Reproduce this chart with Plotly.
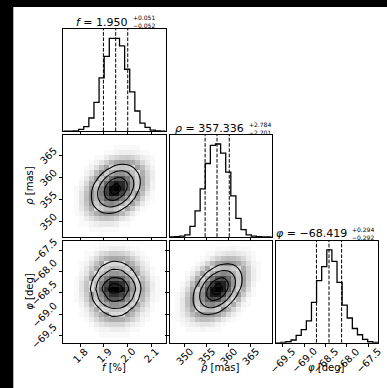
import numpy as np
import plotly.graph_objects as go

W, H = 387, 388
NBINS = 20

# ---------------- data ----------------
F_RANGE = [1.728, 2.161]
RHO_RANGE = [346.55, 369.75]
PHI_RANGE = [-69.66, -67.28]

f_hist = [0, 0, 1, 5, 13, 38, 83, 153, 215, 267, 267, 245, 178, 113, 58, 23, 11, 3, 1, 0]
rho_hist = [0, 1, 2, 6, 30, 75, 138, 211, 263, 267, 241, 186, 118, 53, 21, 6, 2, 1, 0, 0]
phi_hist = [0, 1, 3, 8, 21, 38, 63, 116, 178, 218, 266, 233, 173, 108, 71, 41, 23, 10, 3, 1]

f_quant = [1.898, 1.950, 2.001]
rho_quant = [354.635, 357.336, 360.120]
phi_quant = [-68.711, -68.419, -68.125]

f_ticks = [1.8, 1.9, 2.0, 2.1]
f_ticktext = ["1.8", "1.9", "2.0", "2.1"]
rho_ticks = [350, 355, 360, 365]
rho_ticktext = ["350", "355", "360", "365"]
phi_ticks = [-69.5, -69.0, -68.5, -68.0, -67.5]
phi_ticktext = ["\u221269.5", "\u221269.0", "\u221268.5", "\u221268.0", "\u221267.5"]

f_title = ["<i>f</i> = 1.950", "+0.051", "\u22120.052"]
rho_title = ["<i>\u03c1</i> = 357.336", "+2.784", "\u22122.701"]
phi_title = ["<i>\u03c6</i> = \u221268.419", "+0.294", "\u22120.292"]

f_label = "<i>f</i> [%]"
rho_label = "<i>\u03c1</i> [mas]"
phi_label = "<i>\u03c6</i> [deg]"

# 2D histogram counts, rows = y bins (bottom -> top), cols = x bins
H_f_rho = [
    [0]*20,
    [0,0,0,0,0,1,1,1,1,1,1,0,0,0,0,0,0,0,0,0],
    [0,0,0,1,1,2,3,4,4,4,3,1,1,0,0,0,0,0,0,0],
    [0,0,0,1,3,6,9,12,13,12,9,5,3,1,0,0,0,0,0,0],
    [0,0,1,2,6,12,21,29,34,33,26,17,9,4,1,0,0,0,0,0],
    [0,0,1,4,10,21,39,58,72,73,61,42,24,11,4,1,0,0,0,0],
    [0,0,1,5,13,32,61,96,126,135,120,88,53,26,11,4,1,0,0,0],
    [0,0,1,5,15,38,78,131,181,206,194,150,96,50,22,8,2,1,0,0],
    [0,0,1,5,14,38,82,146,214,259,258,212,143,80,37,14,4,1,0,0],
    [0,0,1,3,11,31,71,135,209,268,283,246,177,104,51,20,7,2,0,0],
    [0,0,0,2,7,21,51,102,168,229,256,236,179,112,58,24,9,2,0,0],
    [0,0,0,1,4,12,30,64,111,161,190,186,150,99,54,24,9,3,0,0],
    [0,0,0,0,2,5,15,33,61,93,117,121,103,72,42,20,8,3,0,0],
    [0,0,0,0,1,2,6,14,27,44,59,65,59,44,27,14,6,2,0,0],
    [0,0,0,0,0,1,2,5,10,17,24,28,27,22,14,7,3,1,0,0],
    [0,0,0,0,0,0,1,1,3,6,8,10,11,9,6,3,2,1,0,0],
    [0,0,0,0,0,0,0,0,1,1,2,3,3,3,2,1,1,0,0,0],
    [0,0,0,0,0,0,0,0,0,0,1,1,1,1,1,0,0,0,0,0],
    [0]*20,
    [0]*20,
]

H_f_phi = [
    [0]*20,
    [0,0,0,0,0,0,0,1,1,1,1,1,1,0,0,0,0,0,0,0],
    [0,0,0,0,0,0,1,2,2,3,3,3,2,1,1,0,0,0,0,0],
    [0,0,0,0,0,1,3,5,7,8,8,8,5,3,2,1,0,0,0,0],
    [0,0,0,0,1,3,7,12,17,22,22,20,14,9,5,2,1,0,0,0],
    [0,0,0,1,2,6,12,22,31,39,39,36,26,16,8,3,2,0,0,0],
    [0,0,0,1,3,9,20,37,52,65,65,59,43,27,14,6,3,1,0,0],
    [0,0,0,2,6,17,37,68,95,119,119,109,79,50,26,10,5,1,0,0],
    [0,0,1,3,9,26,57,104,147,182,182,167,121,77,39,16,7,2,1,0],
    [0,0,1,4,11,32,69,128,180,223,223,205,149,94,48,19,9,2,1,0],
    [0,0,1,5,13,39,85,156,219,272,272,250,181,115,59,23,11,3,1,0],
    [0,0,1,5,12,34,74,137,192,238,238,219,159,101,52,20,10,3,1,0],
    [0,0,1,3,9,25,55,101,142,177,177,162,118,75,38,15,7,2,1,0],
    [0,0,0,2,5,16,34,63,89,110,110,101,74,47,24,9,5,1,0,0],
    [0,0,0,1,4,10,23,42,58,73,73,67,48,31,16,6,3,1,0,0],
    [0,0,0,1,2,6,13,24,34,42,42,38,28,18,9,4,2,0,0,0],
    [0,0,0,0,1,3,7,13,19,23,23,21,16,10,5,2,1,0,0,0],
    [0,0,0,0,1,1,3,6,8,10,10,9,7,4,2,1,0,0,0,0],
    [0,0,0,0,0,0,1,2,2,3,3,3,2,1,1,0,0,0,0,0],
    [0,0,0,0,0,0,0,1,1,1,1,1,1,0,0,0,0,0,0,0],
]

H_rho_phi = [
    [0]*20,
    [0]*20,
    [0,0,0,1,1,1,2,1,1,1,0,0,0,0,0,0,0,0,0,0],
    [0,0,1,2,3,4,5,5,4,2,1,0,0,0,0,0,0,0,0,0],
    [0,1,2,4,7,12,15,15,12,8,4,2,1,0,0,0,0,0,0,0],
    [0,1,3,7,15,25,34,38,34,25,14,7,3,1,0,0,0,0,0,0],
    [0,1,4,10,24,44,65,79,76,60,38,19,8,3,1,0,0,0,0,0],
    [0,1,4,13,32,63,103,134,141,120,83,46,21,7,2,1,0,0,0,0],
    [0,1,4,13,35,75,132,187,215,198,148,89,44,17,5,1,0,0,0,0],
    [0,1,3,11,31,73,140,215,268,269,218,142,75,32,11,3,1,0,0,0],
    [0,0,2,7,23,59,122,203,274,299,263,187,107,50,19,6,1,0,0,0],
    [0,0,1,4,14,39,87,158,231,273,261,201,125,63,26,8,2,0,0,0],
    [0,0,0,2,7,21,51,101,160,205,213,178,120,66,29,10,3,1,0,0],
    [0,0,0,1,3,9,25,53,91,126,142,129,95,56,27,10,3,1,0,0],
    [0,0,0,0,1,3,10,23,42,64,78,77,61,40,21,9,3,1,0,0],
    [0,0,0,0,0,1,3,8,16,27,35,38,33,23,13,6,2,1,0,0],
    [0,0,0,0,0,0,1,2,5,9,13,15,14,11,7,3,1,0,0,0],
    [0,0,0,0,0,0,0,1,1,3,4,5,5,4,3,2,1,0,0,0],
    [0,0,0,0,0,0,0,0,0,1,1,1,2,1,1,1,0,0,0,0],
    [0]*20,
]

# ---------------- layout geometry (pixels) ----------------
COLS = [(63.3, 165.5), (169.5, 271.7), (275.7, 377.9)]
ROWS = [(29.0, 131.2), (134.7, 236.9), (240.6, 342.8)]
FONT = "DejaVu Sans"


def PX(x):
    return x / W


def PY(y):
    return 1 - y / H


def edges_centers(r):
    e = np.linspace(r[0], r[1], NBINS + 1)
    return e, 0.5 * (e[1:] + e[:-1])


SIG = np.array([0.5, 1.0, 1.5, 2.0])
LEVELS = 1.0 - np.exp(-0.5 * SIG ** 2)


def contour_levels(Hg):
    flat = np.sort(Hg.flatten())[::-1]
    sm = np.cumsum(flat)
    sm = sm / sm[-1]
    V = []
    for v0 in LEVELS:
        sel = flat[sm <= v0]
        V.append(sel[-1] if len(sel) else flat[0])
    return sorted(V)


fig = go.Figure()
layout = {}


def axis_common(domain, rng, tickvals=None):
    d = dict(domain=domain, range=rng, showline=True, mirror=True, linecolor="black",
             linewidth=0.9, showgrid=False, zeroline=False, showticklabels=False,
             ticks="outside" if tickvals is not None else "", ticklen=3.5, tickwidth=0.8,
             tickcolor="black", fixedrange=True)
    if tickvals is not None:
        d["tickvals"] = tickvals
    return d


VARS = {
    "f": (F_RANGE, f_ticks, f_ticktext, f_hist, f_quant, f_title, f_label),
    "rho": (RHO_RANGE, rho_ticks, rho_ticktext, rho_hist, rho_quant, rho_title, rho_label),
    "phi": (PHI_RANGE, phi_ticks, phi_ticktext, phi_hist, phi_quant, phi_title, phi_label),
}
ORDER = ["f", "rho", "phi"]
TITLE_POS = {0: (129.5, 22.0), 1: (245.5, 129.0), 2: (348.5, 233.8)}

annotations = []


def tick_w(s):
    return sum(8.38 if c == "\u2212" else 3.18 if c == "." else 6.36 for c in s)


def diag(s):
    return (tick_w(s) + 7.3) * 0.7071


ax_id = 0
for r in range(3):
    for c in range(r + 1):
        ax_id += 1
        xa = "x" if ax_id == 1 else f"x{ax_id}"
        ya = "y" if ax_id == 1 else f"y{ax_id}"
        xkey = "xaxis" if ax_id == 1 else f"xaxis{ax_id}"
        ykey = "yaxis" if ax_id == 1 else f"yaxis{ax_id}"
        x0, x1 = COLS[c]
        y0, y1 = ROWS[r]
        xdom = [PX(x0), PX(x1)]
        ydom = [PY(y1), PY(y0)]
        xv = VARS[ORDER[c]]
        yv = VARS[ORDER[r]]
        xe, xc = edges_centers(xv[0])

        if r == c:
            counts = xv[3]
            ytop = 1.1 * max(counts)
            xs = np.concatenate([[xe[0]], xe, [xe[-1]]])
            ys = [0] + list(counts) + [counts[-1], 0]
            fig.add_trace(go.Scatter(x=xs, y=ys, mode="lines", line_shape="hv",
                                     line=dict(color="black", width=1.3),
                                     xaxis=xa, yaxis=ya, hoverinfo="skip"))
            for q in xv[4]:
                fig.add_trace(go.Scatter(x=[q, q], y=[0, ytop], mode="lines",
                                         line=dict(color="black", width=1, dash="3.7px,1.6px"),
                                         xaxis=xa, yaxis=ya, hoverinfo="skip"))
            layout[xkey] = axis_common(xdom, xv[0], xv[1])
            layout[xkey]["anchor"] = ya
            layout[ykey] = axis_common(ydom, [0, ytop], None)
            layout[ykey]["anchor"] = xa
            main, sup, sub = xv[5]
            pos = TITLE_POS[r]
            annotations.append(dict(x=PX(pos[0]), y=PY(pos[1]), xref="paper", yref="paper",
                                    text=main, showarrow=False, xanchor="right", yanchor="middle",
                                    font=dict(family=FONT, size=11, color="black")))
            annotations.append(dict(x=PX(pos[0] + 1.0), y=PY(pos[1] - 0.5), xref="paper", yref="paper",
                                    text=sup + "<br>" + sub, showarrow=False, align="left",
                                    xanchor="left", yanchor="middle",
                                    font=dict(family=FONT, size=6, color="black")))
        else:
            ye, yc = edges_centers(yv[0])
            Hg = np.array({(1, 0): H_f_rho, (2, 0): H_f_phi, (2, 1): H_rho_phi}[(r, c)], dtype=float)
            V = contour_levels(Hg)
            hmax = Hg.max()
            inside = Hg >= V[0]
            disp = np.where(inside, 1 - Hg / hmax, 1 - 0.5 * (1 - np.exp(-Hg / 20.0)))
            fig.add_trace(go.Heatmap(z=disp, x=xc, y=yc, zmin=0, zmax=1,
                                     colorscale=[[0, "black"], [1, "white"]], showscale=False,
                                     xaxis=xa, yaxis=ya, hoverinfo="skip"))
            for v in V:
                fig.add_trace(go.Contour(z=Hg, x=xc, y=yc, autocontour=False,
                                         contours=dict(start=v, end=v, size=1e6, coloring="none"),
                                         line=dict(color="black", width=1.1, smoothing=1.0),
                                         showscale=False, xaxis=xa, yaxis=ya, hoverinfo="skip"))
            layout[xkey] = axis_common(xdom, xv[0], xv[1])
            layout[xkey]["anchor"] = ya
            layout[ykey] = axis_common(ydom, yv[0], yv[1])
            layout[ykey]["anchor"] = xa
            if c == 0:
                for tv, tt in zip(yv[1], yv[2]):
                    annotations.append(dict(x=PX(x0 - 5 - diag(tt) / 2), y=tv, xref="paper", yref=ya,
                                            text=tt, showarrow=False, textangle=-45,
                                            xanchor="center", yanchor="middle",
                                            font=dict(family=FONT, size=10, color="black")))
                annotations.append(dict(x=PX(30), y=PY((y0 + y1) / 2), xref="paper", yref="paper",
                                        text=yv[6], showarrow=False, textangle=-90,
                                        xanchor="center", yanchor="middle",
                                        font=dict(family=FONT, size=10, color="black")))
        if r == 2:
            for tv, tt in zip(xv[1], xv[2]):
                annotations.append(dict(x=tv, y=PY(y1 + 4 + diag(tt) / 2), xref=xa, yref="paper",
                                        text=tt, showarrow=False, textangle=-45,
                                        xanchor="center", yanchor="middle",
                                        font=dict(family=FONT, size=10, color="black")))
            annotations.append(dict(x=PX((x0 + x1) / 2), y=PY(367.5), xref="paper", yref="paper",
                                    text=xv[6], showarrow=False, xanchor="center", yanchor="middle",
                                    font=dict(family=FONT, size=10, color="black")))

shapes = [
    dict(type="rect", xref="paper", yref="paper", x0=0, x1=PX(13.3), y0=0, y1=1,
         fillcolor="black", line=dict(width=0), layer="above"),
    dict(type="rect", xref="paper", yref="paper", x0=0, x1=1, y0=PY(7.0), y1=1,
         fillcolor="black", line=dict(width=0), layer="above"),
]

fig.update_layout(width=W, height=H, margin=dict(l=0, r=0, t=0, b=0),
                  paper_bgcolor="white", plot_bgcolor="white", showlegend=False,
                  annotations=annotations, shapes=shapes, **layout)

fig.write_html("out.html", config={"displayModeBar": False},
               post_script="document.body.style.margin='0';document.body.style.overflow='hidden';")
